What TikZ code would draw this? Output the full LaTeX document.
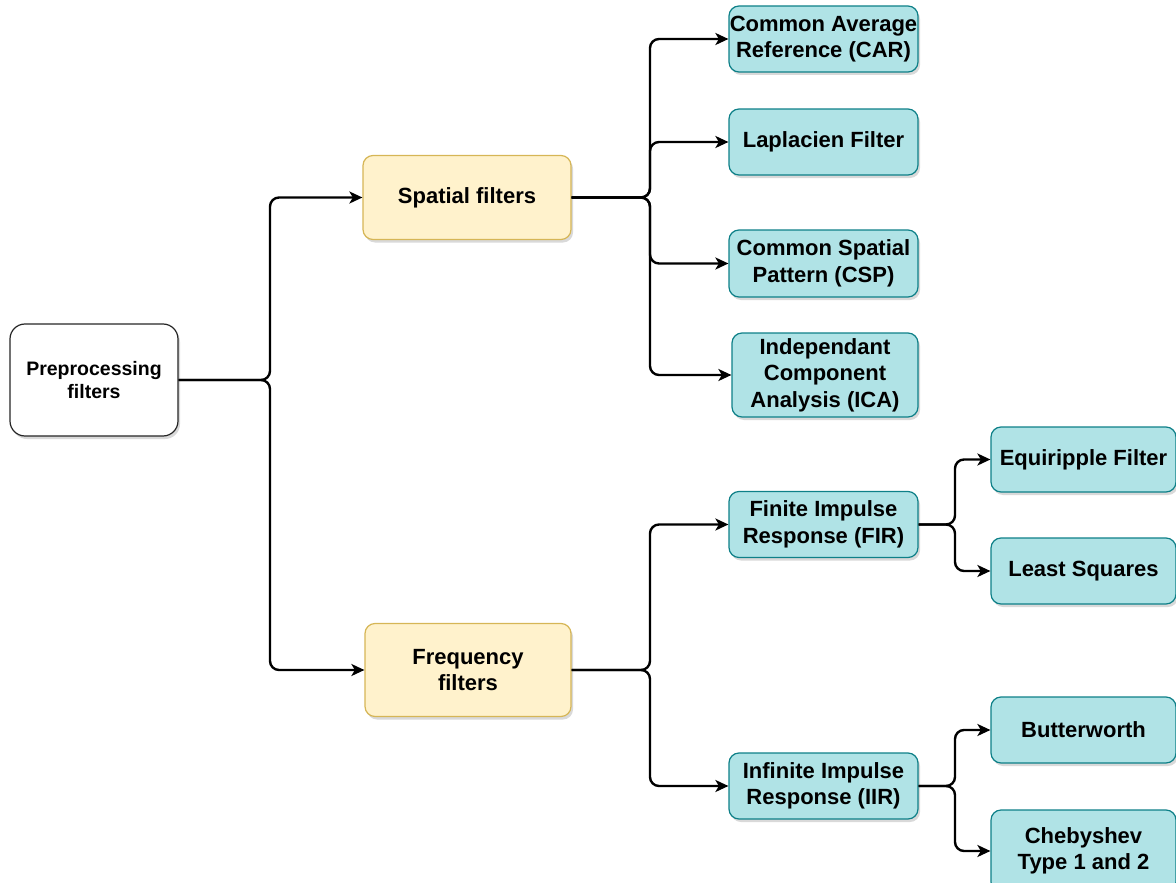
\documentclass[tikz,border=0pt]{standalone}
\usepackage{fontspec}
\setmainfont{Liberation Sans}
\usetikzlibrary{arrows.meta,shadows}
\definecolor{tealfill}{HTML}{B0E3E6}
\definecolor{tealline}{HTML}{0E8088}
\definecolor{sandfill}{HTML}{FFF2CC}
\definecolor{sandline}{HTML}{D6B656}
\tikzset{
  box/.style={draw, line width=1.2pt, rounded corners=10pt, inner sep=0pt, align=center,
    font=\fontsize{22}{26.5}\selectfont\bfseries,
    drop shadow={shadow xshift=2pt, shadow yshift=-3pt, opacity=0.25, fill=black!60}},
  rootbox/.style={box, fill=white, draw=black!85, rounded corners=15pt,
    font=\fontsize{19.5}{23}\selectfont\bfseries},
  groupbox/.style={box, fill=sandfill, draw=sandline},
  leafbox/.style={box, fill=tealfill, draw=tealline},
  link/.style={line width=2.4pt, rounded corners=9pt,
    -{Stealth[length=13pt, width=12pt, inset=3.5pt]}}
}
\begin{document}
\begin{tikzpicture}[x=1pt, y=-1pt]
  \path[use as bounding box, clip] (0,0) rectangle (1176,883);

  % root
  \node[rootbox, minimum width=168pt, minimum height=112pt] (root) at (94,380) {Preprocessing\\filters};

  % filter families
  \node[groupbox, minimum width=208pt, minimum height=84pt] (spatial) at (467,197.5) {Spatial filters};
  \node[groupbox, minimum width=206pt, minimum height=93pt] (freq) at (468,670) {Frequency\\filters};

  % spatial filters
  \node[leafbox, minimum width=189pt, minimum height=66pt] (car) at (823.5,39) {Common Average\\Reference (CAR)};
  \node[leafbox, minimum width=189pt, minimum height=66pt] (lap) at (823.5,142) {Laplacien Filter};
  \node[leafbox, minimum width=189pt, minimum height=67pt] (csp) at (823.5,263.5) {Common Spatial\\Pattern (CSP)};
  \node[leafbox, minimum width=186pt, minimum height=84pt] (ica) at (825,375) {Independant\\Component\\Analysis (ICA)};

  % frequency filters
  \node[leafbox, minimum width=189pt, minimum height=66pt] (fir) at (823.5,524.5) {Finite Impulse\\Response (FIR)};
  \node[leafbox, minimum width=189pt, minimum height=66pt] (iir) at (823.5,786) {Infinite Impulse\\Response (IIR)};

  % FIR / IIR designs
  \node[leafbox, minimum width=185pt, minimum height=65pt] (equi) at (1083.5,459.5) {Equiripple Filter};
  \node[leafbox, minimum width=185pt, minimum height=66pt] (least) at (1083.5,571) {Least Squares};
  \node[leafbox, minimum width=185pt, minimum height=66pt] (butter) at (1083.5,730) {Butterworth};
  \node[leafbox, minimum width=185pt, minimum height=82pt] (cheby) at (1083.5,851) {Chebyshev\\Type 1 and 2};

  % branch points
  \coordinate (rsplit) at (270,380);
  \coordinate (ssplit) at (650,197.5);
  \coordinate (fsplit) at (650,670);
  \coordinate (firsplit) at (955,524.5);
  \coordinate (iirsplit) at (955,786);

  % connectors
  \draw[link] (root.east) -- (rsplit) |- (spatial.west);
  \draw[link] (root.east) -- (rsplit) |- (freq.west);

  \draw[link] (spatial.east) -- (ssplit) |- (car.west);
  \draw[link] (spatial.east) -- (ssplit) |- (lap.west);
  \draw[link] (spatial.east) -- (ssplit) |- (csp.west);
  \draw[link] (spatial.east) -- (ssplit) |- (ica.west);

  \draw[link] (freq.east) -- (fsplit) |- (fir.west);
  \draw[link] (freq.east) -- (fsplit) |- (iir.west);

  \draw[link] (fir.east) -- (firsplit) |- (equi.west);
  \draw[link] (fir.east) -- (firsplit) |- (least.west);

  \draw[link] (iir.east) -- (iirsplit) |- (butter.west);
  \draw[link] (iir.east) -- (iirsplit) |- (cheby.west);
\end{tikzpicture}
\end{document}
